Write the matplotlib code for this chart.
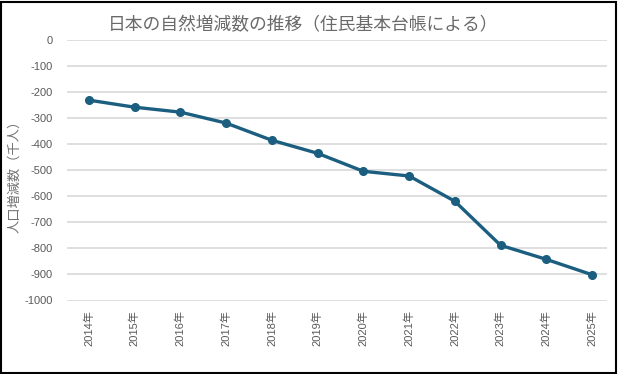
import matplotlib.pyplot as plt
from matplotlib.patches import Rectangle

plt.rcParams['font.family'] = ['Liberation Sans', 'Noto Sans CJK JP']

years = ['2014年', '2015年', '2016年', '2017年', '2018年', '2019年',
         '2020年', '2021年', '2022年', '2023年', '2024年', '2025年']
change = [-231, -258, -277, -319, -385, -435, -504, -522, -619, -788, -842, -901]
yticks = list(range(0, -1001, -100))

W, H = 618, 374
left, right, top, bottom = 67, 607, 40, 300.5
fig = plt.figure(figsize=(W / 100, H / 100), dpi=100)
ax = fig.add_axes([left / W, 1 - bottom / H, (right - left) / W, (bottom - top) / H])

x = list(range(len(years)))
ax.plot(x, change, color='#1b5e80', lw=2.4, marker='o', ms=5.5, zorder=3)

step = (592 - 89) / 11
ax.set_xlim(-(89 - left) / step, 11 + (right - 592) / step)
ax.set_ylim(-1000, 0)
ax.set_yticks(yticks)
ax.set_yticklabels([str(v) for v in yticks])
ax.set_xticks(x)
ax.set_xticklabels(years, rotation=90)
ax.grid(axis='y', color='#d9d9d9', lw=1.2)
ax.set_axisbelow(True)
for s in ax.spines.values():
    s.set_visible(False)
ax.tick_params(length=0, labelsize=8, colors='#595959')
ax.tick_params(axis='y', pad=10)
ax.tick_params(axis='x', pad=7)

ax.set_ylabel('人口増減数（千人）', fontsize=9.5, color='#707070',
              family=['Noto Sans CJK JP'])
ax.yaxis.set_label_coords(-(left - 21) / (right - left), (bottom - 173) / (bottom - top))
fig.text(303 / W, 1 - 25 / H, '日本の自然増減数の推移（住民基本台帳による）',
         ha='center', va='center', fontsize=12.8, color='#6a6a6a',
         family=['Noto Sans CJK JP'])

fig.patches.append(Rectangle((0.5 / W, 1.5 / H), (W - 3) / W, (H - 3) / H,
                             transform=fig.transFigure, fill=False,
                             edgecolor='black', lw=1.5))

fig.savefig('out.png', dpi=100)
